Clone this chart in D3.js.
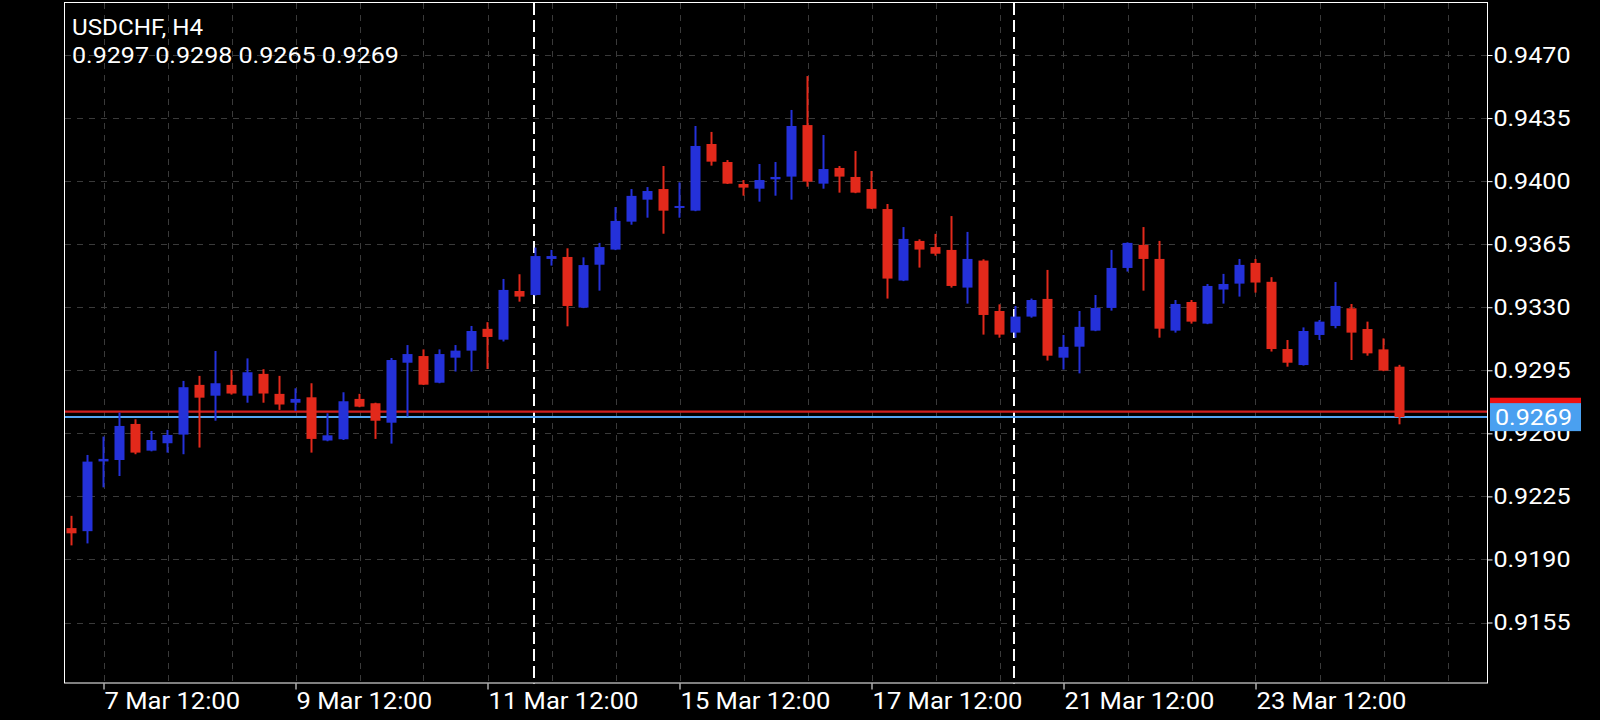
<!DOCTYPE html>
<html>
<head>
<meta charset="utf-8">
<script src="https://cdn.jsdelivr.net/npm/d3@7"></script>
<style>
  html, body { margin: 0; padding: 0; background: #000; }
  svg { display: block; }
  text { font-family: Roboto, "Noto Sans", sans-serif; fill: #fff; }
</style>
</head>
<body>
<svg id="chart" width="1600" height="720"></svg>
<script>
// ---- data ----
const symbolTitle = "USDCHF, H4";
const lastBar = [0.9297, 0.9298, 0.9265, 0.9269];
const bidPrice = 0.9269;
const askPrice = 0.9272;

const opens = [
  0.92074, 0.92057, 0.92444, 0.92452, 0.92652, 0.92504, 0.92545, 0.92593, 0.92869, 0.92809,
  0.92869, 0.92809, 0.92930, 0.92819, 0.92770, 0.92800, 0.92560, 0.92567, 0.92791, 0.92767,
  0.92659, 0.92992, 0.93029, 0.92881, 0.93020, 0.93059, 0.93180, 0.93120, 0.93390, 0.93368,
  0.93568, 0.93579, 0.93298, 0.93536, 0.93620, 0.93775, 0.93897, 0.93956, 0.93856, 0.93836,
  0.94206, 0.94106, 0.93984, 0.93958, 0.94010, 0.94025, 0.94311, 0.93986, 0.94073, 0.94023,
  0.93956, 0.93845, 0.93448, 0.93668, 0.93634, 0.93618, 0.93409, 0.93559, 0.93279, 0.93159,
  0.93248, 0.93346, 0.93020, 0.93081, 0.93170, 0.93296, 0.93518, 0.93646, 0.93568, 0.93170,
  0.93329, 0.93209, 0.93398, 0.93431, 0.93546, 0.93441, 0.93068, 0.92979, 0.93146, 0.93196,
  0.93294, 0.93179, 0.93066, 0.92970
];
const highs = [
  0.92142, 0.92480, 0.92582, 0.92715, 0.92678, 0.92613, 0.92619, 0.92891, 0.92919, 0.93057,
  0.92952, 0.93016, 0.92956, 0.92919, 0.92850, 0.92878, 0.92711, 0.92828, 0.92819, 0.92770,
  0.93018, 0.93090, 0.93066, 0.93066, 0.93090, 0.93196, 0.93217, 0.93457, 0.93483, 0.93631,
  0.93618, 0.93627, 0.93577, 0.93657, 0.93856, 0.93956, 0.93967, 0.94084, 0.93993, 0.94306,
  0.94273, 0.94117, 0.94006, 0.94095, 0.94106, 0.94395, 0.94583, 0.94256, 0.94084, 0.94167,
  0.94056, 0.93873, 0.93745, 0.93677, 0.93707, 0.93806, 0.93718, 0.93566, 0.93316, 0.93307,
  0.93348, 0.93507, 0.93146, 0.93279, 0.93368, 0.93618, 0.93660, 0.93745, 0.93668, 0.93340,
  0.93340, 0.93429, 0.93485, 0.93568, 0.93568, 0.93467, 0.93118, 0.93188, 0.93229, 0.93440,
  0.93318, 0.93220, 0.93127, 0.92980
];
const lows = [
  0.91978, 0.91989, 0.92300, 0.92363, 0.92484, 0.92500, 0.92493, 0.92484, 0.92521, 0.92670,
  0.92815, 0.92770, 0.92770, 0.92730, 0.92724, 0.92493, 0.92556, 0.92563, 0.92745, 0.92569,
  0.92543, 0.92693, 0.92868, 0.92878, 0.92943, 0.92943, 0.92957, 0.93110, 0.93331, 0.93365,
  0.93531, 0.93194, 0.93295, 0.93392, 0.93617, 0.93758, 0.93797, 0.93708, 0.93797, 0.93833,
  0.94086, 0.93984, 0.93919, 0.93886, 0.93919, 0.93897, 0.93969, 0.93958, 0.93936, 0.93933,
  0.93845, 0.93348, 0.93445, 0.93520, 0.93586, 0.93409, 0.93320, 0.93148, 0.93131, 0.93131,
  0.93242, 0.93004, 0.92954, 0.92933, 0.93167, 0.93281, 0.93498, 0.93392, 0.93131, 0.93159,
  0.93209, 0.93206, 0.93320, 0.93359, 0.93381, 0.93054, 0.92970, 0.92976, 0.93118, 0.93183,
  0.93007, 0.93031, 0.92945, 0.92650
];
const closes = [
  0.92045, 0.92443, 0.92458, 0.92641, 0.92493, 0.92563, 0.92591, 0.92856, 0.92798, 0.92878,
  0.92821, 0.92939, 0.92821, 0.92760, 0.92791, 0.92569, 0.92589, 0.92778, 0.92748, 0.92670,
  0.93007, 0.93040, 0.92870, 0.93040, 0.93059, 0.93168, 0.93135, 0.93396, 0.93359, 0.93584,
  0.93584, 0.93307, 0.93534, 0.93634, 0.93779, 0.93918, 0.93945, 0.93836, 0.93862, 0.94195,
  0.94108, 0.93986, 0.93964, 0.94006, 0.94023, 0.94306, 0.93997, 0.94067, 0.94025, 0.93936,
  0.93847, 0.93459, 0.93679, 0.93620, 0.93597, 0.93418, 0.93568, 0.93257, 0.93148, 0.93248,
  0.93340, 0.93031, 0.93080, 0.93191, 0.93296, 0.93518, 0.93657, 0.93568, 0.93181, 0.93318,
  0.93220, 0.93418, 0.93429, 0.93535, 0.93437, 0.93068, 0.92992, 0.93168, 0.93220, 0.93307,
  0.93159, 0.93044, 0.92948, 0.92690
];

const yTicks = [0.9470, 0.9435, 0.9400, 0.9365, 0.9330, 0.9295, 0.9260, 0.9225, 0.9190, 0.9155];
const xTickIndex = [2, 14, 26, 38, 50, 62, 74];
const xTickLabels = ["7 Mar 12:00", "9 Mar 12:00", "11 Mar 12:00", "15 Mar 12:00",
                     "17 Mar 12:00", "21 Mar 12:00", "23 Mar 12:00"];
const weekStartIndex = [29, 59];

// ---- layout ----
const plot = { left: 65, right: 1487, top: 3, bottom: 683.5 };
const barStep = 16, firstBarX = 71.5;
const colUp = "#2431d9", colDown = "#e2291b";
const stretch = 1.14;   // horizontal glyph stretch seen in the screenshot

const bars = opens.map((o, i) => ({ i, o, h: highs[i], l: lows[i], c: closes[i] }));

const svg = d3.select("#chart");

const x = d3.scaleLinear()
  .domain([(plot.left - firstBarX) / barStep, (plot.right - firstBarX) / barStep])
  .range([plot.left, plot.right]);
const y = d3.scaleLinear().domain([0.9155, 0.9470]).range([622.5, 55]);

// grid
const grid = svg.append("g");
grid.selectAll("line.h").data(yTicks).join("line")
  .attr("x1", plot.left).attr("x2", plot.right)
  .attr("y1", d => Math.round(y(d)) + 0.5).attr("y2", d => Math.round(y(d)) + 0.5)
  .attr("stroke", "#3a3a3a").attr("stroke-width", 1).attr("stroke-dasharray", "6,6");
const vGrid = d3.range(2, x.domain()[1], 4);
grid.selectAll("line.v").data(vGrid).join("line")
  .attr("y1", plot.top).attr("y2", plot.bottom)
  .attr("x1", d => Math.round(x(d)) + 0.5).attr("x2", d => Math.round(x(d)) + 0.5)
  .attr("stroke", "#3a3a3a").attr("stroke-width", 1).attr("stroke-dasharray", "6,6");

// week separators
svg.append("g").selectAll("line").data(weekStartIndex).join("line")
  .attr("x1", d => x(d) - 1.5).attr("x2", d => x(d) - 1.5)
  .attr("y1", plot.top).attr("y2", plot.bottom)
  .attr("stroke", "#fff").attr("stroke-width", 2).attr("stroke-dasharray", "12,5");

// bid / ask lines
svg.append("line").attr("x1", plot.left).attr("x2", plot.right)
  .attr("y1", y(askPrice)).attr("y2", y(askPrice))
  .attr("stroke", "#d01f1f").attr("stroke-width", 2.3);
svg.append("line").attr("x1", plot.left).attr("x2", plot.right)
  .attr("y1", y(bidPrice)).attr("y2", y(bidPrice))
  .attr("stroke", "#55a6f5").attr("stroke-width", 2);

// candles
const cg = svg.append("g");
const cand = cg.selectAll("g").data(bars).join("g");
cand.append("line")
  .attr("x1", d => x(d.i)).attr("x2", d => x(d.i))
  .attr("y1", d => y(d.h)).attr("y2", d => y(d.l))
  .attr("stroke", d => d.c >= d.o ? colUp : colDown).attr("stroke-width", 2);
cand.append("rect")
  .attr("x", d => x(d.i) - 5).attr("width", 10)
  .attr("y", d => y(Math.max(d.o, d.c)))
  .attr("height", d => Math.max(2, Math.abs(y(d.o) - y(d.c))))
  .attr("fill", d => d.c >= d.o ? colUp : colDown);

// frame
svg.append("rect").attr("x", plot.left - 0.5).attr("y", plot.top - 0.5)
  .attr("width", plot.right - plot.left + 1).attr("height", plot.bottom - plot.top)
  .attr("fill", "none").attr("stroke", "#fff").attr("stroke-width", 1);

// y axis
const yAxis = svg.append("g").attr("transform", `translate(${plot.right + 0.5},0)`)
  .call(d3.axisRight(y).tickValues(yTicks).tickFormat(d3.format(".4f")).tickSize(5).tickPadding(2));
yAxis.select(".domain").remove();
yAxis.selectAll(".tick line").attr("stroke", "#fff");
yAxis.selectAll(".tick text").attr("fill", "#fff").style("font-size", "22px")
  .style("font-family", "Roboto").attr("x", 5.2).attr("transform", `scale(${stretch},1)`);

// x axis
const xAxis = svg.append("g").attr("transform", `translate(0,${plot.bottom})`)
  .call(d3.axisBottom(x).tickValues(xTickIndex).tickFormat((d, k) => xTickLabels[k]).tickSize(6));
xAxis.select(".domain").remove();
xAxis.selectAll(".tick line").attr("stroke", "#fff");
xAxis.selectAll(".tick text").attr("fill", "#fff").style("font-size", "24px")
  .style("font-family", "Roboto").attr("text-anchor", "start").attr("x", 0.5)
  .attr("y", 8).attr("dy", "0.71em").attr("transform", "scale(1.065,1)");

// title
function stretchedText(px, py, size, sx, str) {
  svg.append("g").attr("transform", `translate(${px},${py}) scale(${sx},1)`)
    .append("text").style("font-size", size + "px").text(str);
}
stretchedText(72, 35, 22, 1.10, symbolTitle);
stretchedText(72, 63, 22, stretch, lastBar.map(d3.format(".4f")).join(" "));

// price labels
const labX = 1490, labW = 91, labH = 28;
svg.append("rect").attr("x", labX).attr("width", labW)
  .attr("y", y(askPrice) - labH / 2).attr("height", labH).attr("fill", "#ee1111");
svg.append("rect").attr("x", labX).attr("width", labW)
  .attr("y", y(bidPrice) - labH / 2).attr("height", labH).attr("fill", "#4aa0f0");
svg.append("g").attr("transform", `translate(${labX + 5},${y(bidPrice)}) scale(${stretch},1)`)
  .append("text").attr("dy", "0.36em").style("font-size", "22px").text(d3.format(".4f")(bidPrice));
</script>
</body>
</html>
